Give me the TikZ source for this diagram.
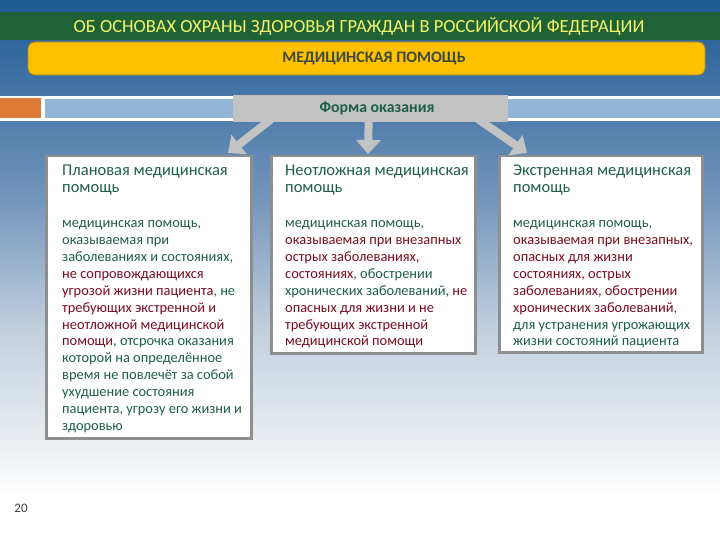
\documentclass[tikz,border=0pt]{standalone}
\usepackage{fontspec}
\setmainfont{Carlito}
\usetikzlibrary{arrows.meta}
\definecolor{bgA}{HTML}{1C5A95}
\definecolor{bgB}{HTML}{4A78A8}
\definecolor{bgC}{HTML}{7496BC}
\definecolor{bgD}{HTML}{C2D0DE}
\definecolor{bgE}{HTML}{F1F3F5}
\definecolor{bandgreen}{HTML}{1F6236}
\definecolor{titleyellow}{HTML}{F6F56A}
\definecolor{medyellow}{HTML}{FFC000}
\definecolor{mededge}{HTML}{B08A20}
\definecolor{medtext}{HTML}{3C4A3A}
\definecolor{barorange}{HTML}{E07A38}
\definecolor{barblue}{HTML}{93B6D6}
\definecolor{formgrey}{HTML}{C3C3C3}
\definecolor{boxgrey}{HTML}{8E8E8E}
\definecolor{txtgreen}{HTML}{1F5E46}
\definecolor{txtred}{HTML}{7A0C1E}
\definecolor{pagegrey}{HTML}{404040}
\tikzset{
  box/.style={draw=boxgrey, line width=2.5pt, fill=white, anchor=north west, inner sep=0pt},
  head/.style={anchor=north west, inner sep=0pt, align=left, text=txtgreen, font=\fontsize{16.5}{17}\selectfont},
  body/.style={anchor=north west, inner sep=0pt, align=left, text=txtgreen, font=\fontsize{14.4}{16.9}\selectfont},
  arr/.style={draw=formgrey, line width=8pt, -{Triangle[width=24pt,length=14pt]}}
}
\newcommand{\rd}[1]{\textcolor{txtred}{#1}}
\begin{document}
\begin{tikzpicture}[x=1pt,y=-1pt]
\useasboundingbox (0,0) rectangle (720,540);
% background
\shade[top color=bgA, bottom color=bgB] (0,0) rectangle (720,100.5);
\shade[top color=bgB, bottom color=bgC] (0,100) rectangle (720,200.5);
\shade[top color=bgC, bottom color=bgD] (0,200) rectangle (720,330.5);
\shade[top color=bgD, bottom color=bgE] (0,330) rectangle (720,460.5);
\shade[top color=bgE, bottom color=white] (0,460) rectangle (720,495.5);
\fill[white] (0,495) rectangle (720,540);
% title band
\fill[bandgreen] (0,12) rectangle (720,40);
\node[text=titleyellow, font=\fontsize{18.5}{20}\selectfont] (title) at (359,26) {ОБ ОСНОВАХ ОХРАНЫ ЗДОРОВЬЯ ГРАЖДАН В РОССИЙСКОЙ ФЕДЕРАЦИИ};
% yellow bar
\fill[medyellow, draw=mededge, line width=0.8pt, rounded corners=7pt] (28,42) rectangle (705,75);
\node[text=medtext, font=\bfseries\fontsize{16}{18}\selectfont] (med) at (374,58.5) {МЕДИЦИНСКАЯ ПОМОЩЬ};
% horizontal bar
\fill[white] (0,96) rectangle (720,121);
\fill[barorange] (0,98.5) rectangle (41,118.5);
\fill[barblue] (45,99) rectangle (720,118);
% form box
\node[fill=formgrey, minimum width=275pt, minimum height=27pt, anchor=north west] (form) at (233,95) {};
\node[text=txtgreen, font=\bfseries\fontsize{15.8}{17}\selectfont] (formtext) at (377,108.5) {Форма оказания};
% arrows
\coordinate (t1) at (228,153);
\coordinate (t2) at (368,154);
\coordinate (t3) at (527,153);
\draw[arr] ([xshift=38pt,yshift=3pt]form.south west) -- (t1);
\draw[arr] ([xshift=-2pt,yshift=3pt]form.south) -- (t2);
\draw[arr] ([xshift=-30pt,yshift=3pt]form.south east) -- (t3);
% boxes
\node[box, minimum width=205pt, minimum height=282pt] (b1) at (45,155) {};
\node[box, minimum width=204pt, minimum height=197pt] (b2) at (270,155) {};
\node[box, minimum width=203pt, minimum height=196pt] (b3) at (498,155) {};
% headings
\node[head] (h1) at (62,165) {Плановая медицинская\\помощь};
\node[head] (h2) at (285,165) {Неотложная медицинская\\помощь};
\node[head] (h3) at (513,165) {Экстренная медицинская\\помощь};
% bodies
\node[body] (p1) at (62,220.5) {медицинская помощь,\\
оказываемая при\\
заболеваниях и состояниях,\\
\rd{не сопровождающихся}\\
\rd{угрозой жизни пациента}, не\\
\rd{требующих экстренной и}\\
\rd{неотложной медицинской}\\
\rd{помощи}, отсрочка оказания\\
которой на определённое\\
время не повлечёт за собой\\
ухудшение состояния\\
пациента, угрозу его жизни и\\
здоровью};
\node[body] (p2) at (285,220.5) {медицинская помощь,\\
\rd{оказываемая при внезапных}\\
\rd{острых заболеваниях,}\\
\rd{состояниях}, обострении\\
хронических заболеваний, \rd{не}\\
\rd{опасных для жизни и не}\\
\rd{требующих экстренной}\\
\rd{медицинской помощи}};
\node[body] (p3) at (513,220.5) {медицинская помощь,\\
\rd{оказываемая при внезапных,}\\
\rd{опасных для жизни}\\
\rd{состояниях, острых}\\
\rd{заболеваниях, обострении}\\
\rd{хронических заболеваний},\\
для устранения угрожающих\\
жизни состояний пациента};
% page number
\node[text=pagegrey, font=\fontsize{13}{15}\selectfont] (pg) at (21,508) {20};
\end{tikzpicture}
\end{document}
